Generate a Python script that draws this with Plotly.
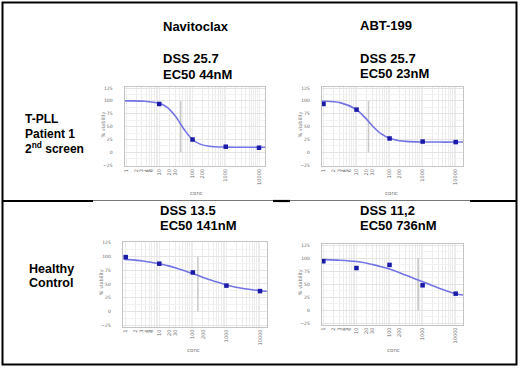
import plotly.graph_objects as go

# ---------------- data ----------------
drug_names = ["Navitoclax", "ABT-199"]
dss_labels = ["DSS 25.7", "DSS 25.7", "DSS 13.5", "DSS 11,2"]
ec50_labels = ["EC50 44nM", "EC50 23nM", "EC50 141nM", "EC50 736nM"]
ec50_nM = [44, 23, 141, 736]
row1_lines = ["T-PLL", "Patient 1", "2<sup>nd</sup> screen"]
row2_lines = ["Healthy", "Control"]

dose_conc = [1, 10, 100, 1000, 10000]
tl_viability = [None, 94, 25, 11, 9]
tr_viability = [94, 83, 27, 21, 20]
bl_viability = [99, 87, 71, 47, 37]
br_viability = [94, 81, 87, 48, 32]

# fitted curves
curve_conc = [0.88, 1, 3.16, 10, 17.8, 31.6, 56.2, 100, 178, 316, 1000, 3162, 10000, 17000]
tl_curve = [100, 100, 99.5, 95.3, 86.9, 69.1, 44.4, 25, 15.5, 11.9, 10.2, 10, 10, 10]
tr_curve = [99.5, 99.4, 96.6, 83, 67.9, 50.2, 35.8, 27.2, 23.1, 21.3, 20.2, 20, 20, 20]
bl_curve = [95.1, 94.8, 92.0, 87, 83.4, 79.2, 74.2, 68.9, 63.2, 57.8, 48.3, 41.7, 37.7, 36.5]
br_curve = [97.3, 97.2, 96, 93.5, 91, 87.5, 83.5, 79, 73.5, 67, 55, 42.5, 32, 29.5]

conc_tickvals = [1, 2, 3, 4, 5, 6, 10, 20, 30, 100, 200, 1000, 10000]
conc_ticktext = [str(v) for v in conc_tickvals]
viability_ticks = [-25, 0, 25, 50, 75, 100, 125]

# ---------------- layout helpers ----------------
W, H = 520, 368
def px(x):
    return x / W
def py(y):
    return 1 - y / H

BIG = "Liberation Sans, Arial, sans-serif"
CURVE = "#7474e4"
POINT = "#1a1aa6"

panels = [
    dict(dom=(124.5, 265, 87, 166), xr=[-0.045, 4.18], yr=[-26.5, 127], cx=196, cy=193, lx=103,
         pts=tl_viability, curve=tl_curve, ec=ec50_nM[0]),
    dict(dom=(321.7, 463.3, 87, 166), xr=[-0.054, 4.23], yr=[-26.5, 127], cx=391, cy=193, lx=300,
         pts=tr_viability, curve=tr_curve, ec=ec50_nM[1]),
    dict(dom=(122.7, 266.7, 242, 326.5), xr=[-0.09, 4.2], yr=[-27.5, 126.5], cx=193, cy=350, lx=101,
         pts=bl_viability, curve=bl_curve, ec=ec50_nM[2]),
    dict(dom=(321.7, 463.3, 244, 324.5), xr=[-0.05, 4.23], yr=[-27, 127], cx=393, cy=350, lx=300,
         pts=br_viability, curve=br_curve, ec=ec50_nM[3]),
]

fig = go.Figure()
annotations = []
minor_x = [m * 10 ** d for d in range(0, 5) for m in range(1, 10)]

for i, p in enumerate(panels):
    n = "" if i == 0 else str(i + 1)
    xa, ya = "x" + n, "y" + n
    fig.add_trace(go.Scatter(x=[p["ec"], p["ec"]], y=[0, 100], mode="lines",
                             line=dict(color="#c8c8c8", width=1.5), xaxis=xa, yaxis=ya,
                             showlegend=False, hoverinfo="skip"))
    fig.add_trace(go.Scatter(x=curve_conc, y=p["curve"], mode="lines",
                             line=dict(color=CURVE, width=1.6, shape="spline", smoothing=1.0),
                             xaxis=xa, yaxis=ya, showlegend=False))
    fig.add_trace(go.Scatter(x=dose_conc, y=p["pts"], mode="markers",
                             marker=dict(color=POINT, size=4.5, symbol="square"),
                             xaxis=xa, yaxis=ya, showlegend=False, cliponaxis=False))
    x0, x1, yt, yb = p["dom"]
    fig.layout["xaxis" + n] = dict(
        domain=[px(x0), px(x1)], anchor=ya, type="log", range=p["xr"],
        tickvals=conc_tickvals, ticktext=conc_ticktext, tickangle=-90,
        tickfont=dict(size=5, color="#666", family="DejaVu Sans"),
        showgrid=False, zeroline=False, showline=True, mirror=True,
        linecolor="#c4c4c4", linewidth=1, ticks="", automargin=False,
        minor=dict(tickvals=minor_x, showgrid=True, gridcolor="#ececec", gridwidth=1, ticks=""),
    )
    fig.layout["yaxis" + n] = dict(
        domain=[py(yb), py(yt)], anchor=xa, range=p["yr"],
        tickvals=viability_ticks, tickfont=dict(size=4.5, color="#666", family="DejaVu Sans"),
        showgrid=True, gridcolor="#e4e4e4", gridwidth=1, zeroline=False,
        showline=True, mirror=True, linecolor="#c4c4c4", linewidth=1, ticks="",
        ticklabelstandoff=10, automargin=False,
        minor=dict(dtick=12.5, showgrid=True, gridcolor="#f2f2f2", ticks=""),
    )
    annotations.append(dict(text="conc", x=px(p["cx"]), y=py(p["cy"]), xref="paper", yref="paper",
                            showarrow=False, font=dict(size=5.5, color="#777", family="DejaVu Sans"),
                            xanchor="center", yanchor="middle"))
    annotations.append(dict(text="% viability", x=px(p["lx"]), y=py((yt + yb) / 2 - 2),
                            xref="paper", yref="paper", textangle=-90, showarrow=False,
                            font=dict(size=5, color="#777", family="DejaVu Sans"),
                            xanchor="center", yanchor="middle"))

def big(text, x, y, size=13.5, anchor="left"):
    annotations.append(dict(text="<b>" + text + "</b>", x=px(x), y=py(y), xref="paper", yref="paper",
                            showarrow=False, xanchor=anchor, yanchor="middle",
                            font=dict(size=size, color="black", family=BIG)))

big(drug_names[0], 160.5, 26.5, 13)
big(drug_names[1], 357.5, 25.5, 13)
big(dss_labels[0], 160.5, 58, 13)
big(ec50_labels[0], 160.5, 74, 13)
big(dss_labels[1], 357.5, 58, 13)
big(ec50_labels[1], 357.5, 73.5, 13)
big(dss_labels[2], 157.5, 210, 13)
big(ec50_labels[2], 157.5, 225.5, 13)
big(dss_labels[3], 357.5, 210, 13)
big(ec50_labels[3], 357.5, 225.5, 13)
for k, t in enumerate(row1_lines):
    big(t, 22.5, 119 + 14.5 * k, 12)
for k, t in enumerate(row2_lines):
    big(t, 26.5, 268.5 + 14.5 * k, 12.5)

shapes = [
    dict(type="rect", xref="paper", yref="paper", x0=px(2.5), x1=px(516.5), y0=py(364.5), y1=py(2.5),
         line=dict(color="black", width=2)),
]
for a, b in [(2.5, 93), (273, 290), (470, 516.5)]:
    shapes.append(dict(type="line", xref="paper", yref="paper", x0=px(a), x1=px(b), y0=py(201), y1=py(201),
                       line=dict(color="black", width=2.2)))
for a, b in [(93, 273), (290, 470)]:
    shapes.append(dict(type="line", xref="paper", yref="paper", x0=px(a), x1=px(b), y0=py(200.5), y1=py(200.5),
                       line=dict(color="#777", width=1.2)))

fig.update_layout(width=W, height=H, margin=dict(l=0, r=0, t=0, b=0),
                  paper_bgcolor="white", plot_bgcolor="white",
                  annotations=annotations, shapes=shapes, showlegend=False)

fig.write_html("out.html", config={"displayModeBar": False},
               post_script="document.body.style.margin='0';document.body.style.overflow='hidden';")
